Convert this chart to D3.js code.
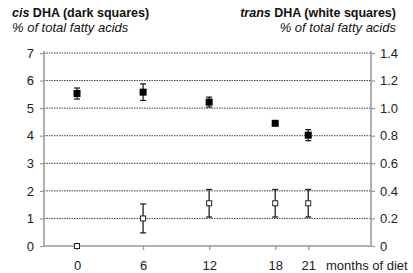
<!DOCTYPE html>
<html>
<head>
<meta charset="utf-8">
<script src="https://cdn.jsdelivr.net/npm/d3@7"></script>
<style>
  body { margin: 0; background: #fff; }
  text { font-family: "Liberation Sans", Arial, sans-serif; }
</style>
</head>
<body>
<div id="chart"></div>
<script>
// DHA in fatty acids over months of diet

const months = [0, 6, 12, 18, 21];
const cisValues = [5.53, 5.58, 5.22, 4.45, 4.02];
const cisErrors = [0.2, 0.3, 0.18, 0, 0.2];
const transValues = [0, 0.2, 0.31, 0.31, 0.31];
const transErrors = [0, 0.105, 0.1, 0.1, 0.1];
const leftTicks = [0, 1, 2, 3, 4, 5, 6, 7];
const rightTicks = [0, 0.2, 0.4, 0.6, 0.8, 1.0, 1.2, 1.4];

const width = 413;
const height = 273;
const margin = {top: 53, right: 42, bottom: 27, left: 44};

const svg = d3.select("#chart")
  .append("svg")
  .attr("width", width)
  .attr("height", height);

const x = d3.scaleLinear()
  .domain([-3, 26.7])
  .range([margin.left, width - margin.right]);

const yLeft = d3.scaleLinear()
  .domain([0, 7])
  .range([height - margin.bottom, margin.top]);

const yRight = d3.scaleLinear()
  .domain([0, 1.4])
  .range([height - margin.bottom, margin.top]);

// gridlines
svg.append("g")
  .selectAll("line")
  .data(leftTicks.filter(d => d > 0))
  .join("line")
    .attr("x1", margin.left)
    .attr("x2", width - margin.right)
    .attr("y1", d => yLeft(d))
    .attr("y2", d => yLeft(d))
    .attr("stroke", "#444")
    .attr("stroke-width", 1)
    .attr("stroke-dasharray", "1.5,1");

// left axis
const leftAxis = svg.append("g")
  .attr("transform", `translate(${margin.left},0)`)
  .call(d3.axisLeft(yLeft).tickValues(leftTicks).tickSize(4).tickPadding(6).tickFormat(d3.format("d")));

// right axis
const rightAxis = svg.append("g")
  .attr("transform", `translate(${width - margin.right},0)`)
  .call(d3.axisRight(yRight).tickValues(rightTicks)
    .tickSize(4).tickPadding(5)
    .tickFormat(d => d === 0 ? "0" : d3.format(".1f")(d)));

// bottom axis
const bottomAxis = svg.append("g")
  .attr("transform", `translate(0,${height - margin.bottom})`)
  .call(d3.axisBottom(x).tickValues(months).tickSize(4).tickPadding(11).tickFormat(d3.format("d")));

[leftAxis, rightAxis, bottomAxis].forEach(a => {
  a.select(".domain").attr("stroke", "#999").attr("stroke-width", 1.5);
  a.selectAll(".tick line").attr("stroke", "#999").attr("stroke-width", 1.2);
  a.selectAll(".tick text")
    .attr("fill", "#222")
    .attr("font-size", 13)
    .attr("font-family", "Liberation Sans, Arial, sans-serif");
});
leftAxis.select(".domain").attr("d", `M0,${height - margin.bottom}V${margin.top - 2}`);
rightAxis.select(".domain").attr("d", `M0,${height - margin.bottom}V${margin.top - 2}`);
bottomAxis.select(".domain").attr("d", `M${margin.left},0H${width - margin.right}`);

// error bars
function errorBars(values, errors, scale) {
  const g = svg.append("g").attr("stroke", "#222").attr("stroke-width", 1.3);
  const data = months.map((m, i) => ({m, v: values[i], e: errors[i]})).filter(d => d.e > 0);
  g.selectAll(".v")
    .data(data)
    .join("line")
      .attr("x1", d => x(d.m)).attr("x2", d => x(d.m))
      .attr("y1", d => scale(d.v + d.e)).attr("y2", d => scale(d.v - d.e));
  g.selectAll(".top")
    .data(data)
    .join("line")
      .attr("x1", d => x(d.m) - 3).attr("x2", d => x(d.m) + 3)
      .attr("y1", d => scale(d.v + d.e)).attr("y2", d => scale(d.v + d.e));
  g.selectAll(".bot")
    .data(data)
    .join("line")
      .attr("x1", d => x(d.m) - 3).attr("x2", d => x(d.m) + 3)
      .attr("y1", d => scale(d.v - d.e)).attr("y2", d => scale(d.v - d.e));
}
errorBars(cisValues, cisErrors, yLeft);
errorBars(transValues, transErrors, yRight);

// dark squares (cis)
svg.append("g")
  .selectAll("rect")
  .data(months)
  .join("rect")
    .attr("x", (d, i) => x(d) - 3.5)
    .attr("y", (d, i) => yLeft(cisValues[i]) - 3.5)
    .attr("width", 7)
    .attr("height", 7)
    .attr("fill", "#000");

// white squares (trans)
svg.append("g")
  .selectAll("rect")
  .data(months)
  .join("rect")
    .attr("x", (d, i) => x(d) - 2.5)
    .attr("y", (d, i) => yRight(transValues[i]) - 2.5)
    .attr("width", 5)
    .attr("height", 5)
    .attr("fill", "#fff")
    .attr("stroke", "#222")
    .attr("stroke-width", 1);

// titles
const t1 = svg.append("text").attr("x", 12).attr("y", 17)
  .attr("font-size", 12.5).attr("font-weight", "bold").attr("fill", "#111");
t1.append("tspan").attr("font-style", "italic").text("cis");
t1.append("tspan").text(" DHA (dark squares)");

svg.append("text").attr("x", 12).attr("y", 32)
  .attr("font-size", 13).attr("font-style", "italic").attr("fill", "#111")
  .text("% of total fatty acids");

const t2 = svg.append("text").attr("x", 396).attr("y", 17).attr("text-anchor", "end")
  .attr("font-size", 12.5).attr("font-weight", "bold").attr("fill", "#111");
t2.append("tspan").attr("font-style", "italic").text("trans");
t2.append("tspan").text(" DHA (white squares)");

svg.append("text").attr("x", 396).attr("y", 32).attr("text-anchor", "end")
  .attr("font-size", 13).attr("font-style", "italic").attr("fill", "#111")
  .text("% of total fatty acids");

svg.append("text").attr("x", 326).attr("y", height - 3)
  .attr("font-size", 13).attr("fill", "#222")
  .text("months of diet");
</script>
</body>
</html>
